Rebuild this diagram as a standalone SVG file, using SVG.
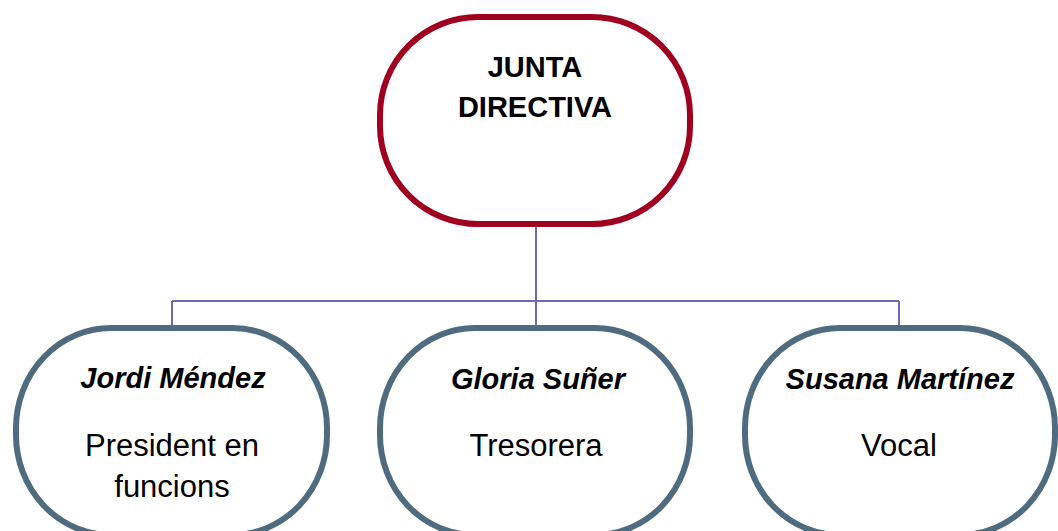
<svg xmlns="http://www.w3.org/2000/svg" width="1058" height="531" viewBox="0 0 1058 531">
<style>
.top{fill:#fff;stroke:#A0001F;stroke-width:6}
.sub{fill:#fff;stroke:#4E6B80;stroke-width:6}
.conn{fill:none;stroke:#6C6AA8;stroke-width:2}
.hb{font-family:"Liberation Sans",Arial,sans-serif;font-weight:bold;font-size:29px;fill:#000;text-anchor:middle}
.bi{font-family:"Liberation Sans",Arial,sans-serif;font-weight:bold;font-style:italic;font-size:29px;fill:#000;text-anchor:middle}
.rg{font-family:"Liberation Sans",Arial,sans-serif;font-size:31px;fill:#000;text-anchor:middle}
</style>
<rect width="1058" height="531" fill="#fff"/>
<g id="connectors">
<path class="conn" d="M536 226 V301"/>
<path class="conn" d="M172 301 H899"/>
<path class="conn" d="M172 301 V327"/>
<path class="conn" d="M536 301 V327"/>
<path class="conn" d="M899 301 V327"/>
</g>
<g id="junta">
<rect class="top" x="380" y="17" width="310" height="207" rx="98" ry="98"/>
<text class="hb" x="535" y="77">JUNTA</text>
<text class="hb" x="535" y="117">DIRECTIVA</text>
</g>
<g id="jordi">
<rect class="sub" x="16" y="328" width="311" height="207" rx="95" ry="100"/>
<text class="bi" x="173" y="388">Jordi Méndez</text>
<text class="rg" x="172" y="456">President en</text>
<text class="rg" x="172" y="497">funcions</text>
</g>
<g id="gloria">
<rect class="sub" x="380" y="328" width="310" height="207" rx="95" ry="100"/>
<text class="bi" x="538" y="389">Gloria Suñer</text>
<text class="rg" x="536" y="456">Tresorera</text>
</g>
<g id="susana">
<rect class="sub" x="745" y="328" width="310" height="207" rx="95" ry="100"/>
<text class="bi" x="900" y="389">Susana Martínez</text>
<text class="rg" x="899" y="456">Vocal</text>
</g>
</svg>
